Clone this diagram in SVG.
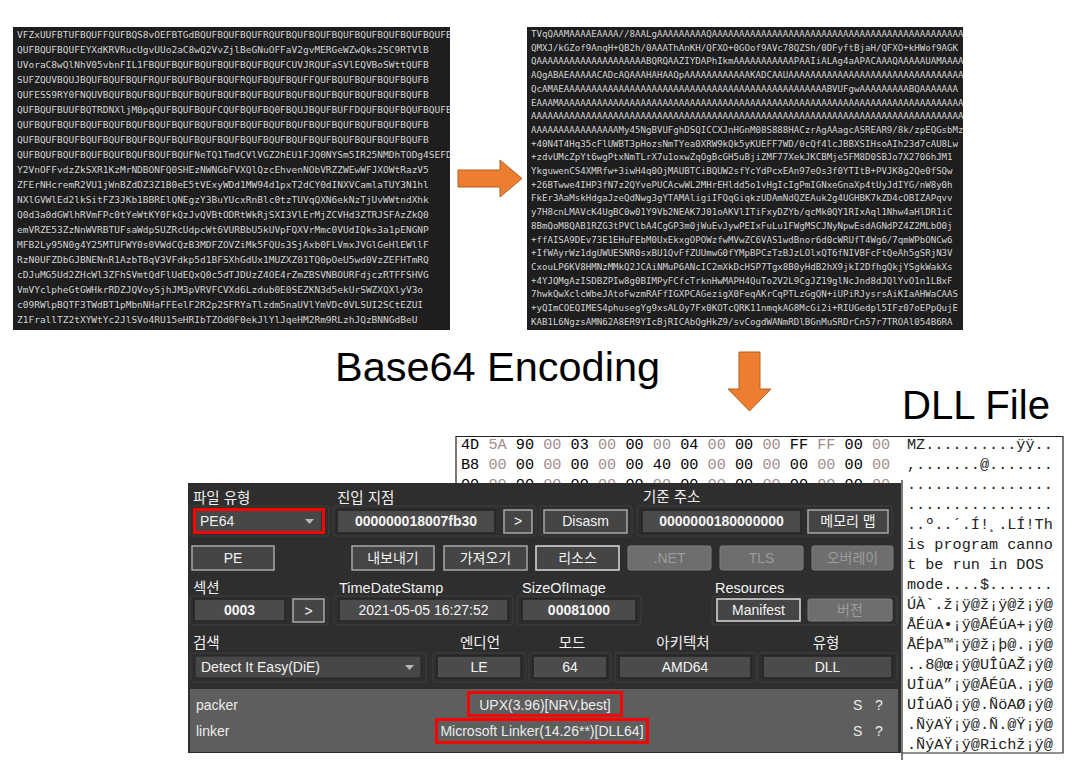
<svg xmlns="http://www.w3.org/2000/svg" width="1082" height="764" viewBox="0 0 1082 764">
<style>
.b64l{font-family:"DejaVu Sans Mono","Liberation Mono",monospace;font-size:9.5px;fill:#d4d4d4}
.b64r{font-family:"DejaVu Sans Mono","Liberation Mono",monospace;font-size:9.1px;fill:#d4d4d4}
.big{font-family:"Liberation Sans","Noto Sans CJK KR",sans-serif;font-size:40px;fill:#000}
.hexd{font-family:"Liberation Mono",monospace;font-size:15.2px;fill:#000}
.hexl{font-family:"Liberation Mono",monospace;font-size:15.2px;fill:#a08c8c}
.asc{font-family:"Liberation Mono",monospace;font-size:15.2px;fill:#222}
.lbl{font-family:"Liberation Sans","Noto Sans CJK KR",sans-serif;font-size:14.5px;fill:#f2f2f2}
.val{font-family:"Liberation Sans","Noto Sans CJK KR",sans-serif;font-size:14px;fill:#f4f4f4;text-anchor:middle}
.valb{font-family:"Liberation Sans",sans-serif;font-size:14px;fill:#f4f4f4;font-weight:bold;text-anchor:middle}
.dis{font-family:"Liberation Sans","Noto Sans CJK KR",sans-serif;font-size:14px;fill:#9c9c9c;text-anchor:middle}
.lst{font-family:"Liberation Sans",sans-serif;font-size:14px;fill:#ececec}
.fld{fill:#4b4b4b;stroke:#242424;stroke-width:1.5}
.btn{fill:#454545;stroke:#a8a8a8;stroke-width:1.5}
.btnd{fill:#6e6e6e;stroke:#7c7c7c;stroke-width:1}
.grp{fill:none;stroke:#3f3f3f;stroke-width:1}
.red{fill:none;stroke:#ff0000;stroke-width:3}
.arr{fill:#ED7D31;stroke:#B0601F;stroke-width:1}
</style>
<defs>
<clipPath id="cl"><rect x="13" y="27" width="437" height="303"/></clipPath>
<clipPath id="cr"><rect x="527" y="27" width="436" height="303"/></clipPath>
<clipPath id="ch"><rect x="456" y="436" width="446" height="47"/></clipPath>
</defs>
<rect width="1082" height="764" fill="#ffffff"/>

<g id="base64-text">
<rect x="13" y="27" width="437" height="303" fill="#1e1e1e"/>
<g clip-path="url(#cl)" class="b64l">
<text x="17" y="38">VFZxUUFBTUFBQUFFQUFBQS8vOEFBTGdBQUFBQUFBQUFRQUFBQUFBQUFBQUFBQUFBQUFBQUFBQUFBQUI</text>
<text x="17" y="53">QUFBQUFBQUFEYXdKRVRucUgvUUo2aC8wQ2VvZjlBeGNuOFFaV2gvMERGeWZwQks2SC9RTVlB</text>
<text x="17" y="68">UVoraC8wQlNhV05vbnFIL1FBQUFBQUFBQUFBQUFBQUFBQUFCUVJRQUFaSVlEQVBoSWttQUFB</text>
<text x="17" y="83">SUFZQUVBQUJBQUFBQUFBQUFRQUFBQUFBQUFBQUFRQUFBQUFBQUFFQUFBQUFBQUFBQUFBQUFB</text>
<text x="17" y="98">QUFESS9RY0FNQUVBQUFBQUFBQUFBQUFBQUFBQUFBQUFBQUFBQUFBQUFBQUFBQUFBQUFBQUFB</text>
<text x="17" y="113">QUFBQUFBUUFBQTRDNXljM0pqQUFBQUFBQUFCQUFBQUFBQ0FBQUJBQUFBUFFDQUFBQUFBQUFBQUFB</text>
<text x="17" y="128">QUFBQUFBQUFBQUFBQUFBQUFBQUFBQUFBQUFBQUFBQUFBQUFBQUFBQUFBQUFBQUFBQUFBQUFB</text>
<text x="17" y="143">QUFBQUFBQUFBQUFBQUFBQUFBQUFBQUFBQUFBQUFBQUFBQUFBQUFBQUFBQUFBQUFBQUFBQUFB</text>
<text x="17" y="158">QUFBQUFBQUFBQUFBQUFBQUFBQUFBQUFNeTQ1TmdCVlVGZ2hEU1FJQ0NYSm5IR25NMDhTODg4SEFD</text>
<text x="17" y="173">Y2VnOFFvdzZkSXR1KzMrNDBONFQ0SHEzNWNGbFVXQlQzcEhvenNObVRZZWEwWFJXOWtRazV5</text>
<text x="17" y="188">ZFErNHcremR2VU1jWnBZdDZ3Z1B0eE5tVExyWDd1MW94d1pxT2dCY0dINXVCamlaTUY3N1hl</text>
<text x="17" y="203">NXlGVWlEd2lkSitFZ3JKb1BBRElQNEgzY3BuYUcxRnBlc0tzTUVqQXN6ekNzTjUvWWtndXhk</text>
<text x="17" y="218">Q0d3a0dGWlhRVmFPc0tYeWtKY0FkQzJvQVBtODRtWkRjSXI3VlErMjZCVHd3ZTRJSFAzZkQ0</text>
<text x="17" y="233">emVRZE53ZzNnWVRBTUFsaWdpSUZRcUdpcWt6VURBbU5kUVpFQXVrMmc0VUdIQks3a1pENGNP</text>
<text x="17" y="248">MFB2Ly95N0g4Y25MTUFWY0s0VWdCQzB3MDFZOVZiMk5FQUs3SjAxb0FLVmxJVGlGeHlEWllF</text>
<text x="17" y="263">RzN0UFZDbGJBNENnR1AzbTBqV3VFdkp5d1BFSXhGdUx1MUZXZ01TQ0pOeU5wd0VzZEFHTmRQ</text>
<text x="17" y="278">cDJuMG5Ud2ZHcWl3ZFhSVmtQdFlUdEQxQ0c5dTJDUzZ4OE4rZmZBSVNBOURFdjczRTFFSHVG</text>
<text x="17" y="293">VmVYclpheGtGWHkrRDZJQVoySjhJM3pVRVFCVXd6Lzdub0E0SEZKN3d5ekUrSWZXQXlyV3o</text>
<text x="17" y="308">c09RWlpBQTF3TWdBT1pMbnNHaFFEelF2R2p2SFRYaTlzdm5naUVlYmVDc0VLSUI2SCtEZUI</text>
<text x="17" y="323">Z1FrallTZ2tXYWtYc2JlSVo4RU15eHRIbTZOd0F0ekJlYlJqeHM2Rm9RLzhJQzBNNGdBeU</text>
</g>
</g>

<g id="dll-base64">
<rect x="527" y="27" width="436" height="303" fill="#1e1e1e"/>
<g clip-path="url(#cr)" class="b64r">
<text x="531" y="37">TVqQAAMAAAAEAAAA//8AALgAAAAAAAAAQAAAAAAAAAAAAAAAAAAAAAAAAAAAAAAAAAAAAAAAAAAAAAAA</text>
<text x="531" y="50.7">QMXJ/kGZof9AnqH+QB2h/0AAAThAnKH/QFXO+0GOof9AVc78QZSh/0DFyftBjaH/QFXO+kHWof9AGK</text>
<text x="531" y="64.4">QAAAAAAAAAAAAAAAAAAAABQRQAAZIYDAPhIkmAAAAAAAAAAAPAAIiALAg4aAPACAAAQAAAAAUAMAAAA</text>
<text x="531" y="78.1">AQgABAEAAAAACADcAQAAAHAHAAQpAAAAAAAAAAAAKADCAAUAAAAAAAAAAAAAAAAAAAAAAAAAAAAAAAA</text>
<text x="531" y="91.8">QcAMAEAAAAAAAAAAAAAAAAAAAAAAAAAAAAAAAAAAAAAAAAAAAAAAAABVUFgwAAAAAAAAABQAAAAAAA</text>
<text x="531" y="105.5">EAAAMAAAAAAAAAAAAAAAAAAAAAAAAAAAAAAAAAAAAAAAAAAAAAAAAAAAAAAAAAAAAAAAAAAAAAAAAAAA</text>
<text x="531" y="119.2">AAAAAAAAAAAAAAAAAAAAAAAAAAAAAAAAAAAAAAAAAAAAAAAAAAAAAAAAAAAAAAAAAAAAAAAAAAAAAAAAA</text>
<text x="531" y="132.9">AAAAAAAAAAAAAAAAMy45NgBVUFghDSQICCXJnHGnM08S888HACzrAgAAagcASREAR9/8k/zpEQGsbMz</text>
<text x="531" y="146.6">+40N4T4Hq35cFlUWBT3pHozsNmTYea0XRW9kQk5yKUEFF7WD/0cQf4lcJBBXSIHsoAIh23d7cAU8Lw</text>
<text x="531" y="160.3">+zdvUMcZpYt6wgPtxNmTLrX7u1oxwZqOgBcGH5uBjiZMF77XekJKCBMje5FM8D0SBJo7X2706hJM1</text>
<text x="531" y="174">YkguwenCS4XMRfw+3iwH4q0OjMAUBTCiBQUW2sfYcYdPcxEAn97eOs3f0YTItB+PVJK8g2Qe0fSQw</text>
<text x="531" y="187.7">+26BTwwe4IHP3fN7z2QYvePUCAcwWL2MHrEHldd5o1vHgIcIgPmIGNxeGnaXp4tUyJdIYG/nW8y0h</text>
<text x="531" y="201.4">FkEr3AaMskHdgaJzeQdNwg3gYTAMAligiIFQqGiqkzUDAmNdQZEAuk2g4UGHBK7kZD4cOBIZAPqvv</text>
<text x="531" y="215.1">y7H8cnLMAVcK4UgBC0w01Y9Vb2NEAK7J01oAKVlITiFxyDZYb/qcMk0QY1RIxAql1Nhw4aHlDR1iC</text>
<text x="531" y="228.8">8BmQoM8QAB1RZG3tPVClbA4CgGP3m0jWuEvJywPEIxFuLu1FWgMSCJNyNpwEsdAGNdPZ4Z2MLbO0j</text>
<text x="531" y="242.5">+ffAISA9DEv73E1EHuFEbM0UxEkxgOPOWzfwMVwZC6VAS1wdBnor6d0cWRUfT4Wg6/7qmWPbONCw6</text>
<text x="531" y="256.2">+IfWAyrWz1dgUWUESNR0sxBU1QvFfZUUmwG0fYMpBPCzTzBJzLOlxQT6fNIVBFcFtQeAh5gSRjN3V</text>
<text x="531" y="269.9">CxouLP6KV8HMNzMMkQ2JCAiNMuP6ANcIC2mXkDcHSP7Tgx8B0yHdB2hX9jkI2DfhgQkjYSgkWakXs</text>
<text x="531" y="283.6">+4YJQMgAzISDBZPIw8g0BIMPyFCfcTrknHwMAPH4QuTo2V2L9CgJZ19glNcJnd8dJQlYvO1n1LBxF</text>
<text x="531" y="297.3">7hwkQwXclcWbeJAtoFwzmRAFfIGXPCAGezigX0FeqAKrCqPTLzGgQN+iUPiRJysrsAiKIaAHWaCAAS</text>
<text x="531" y="311">+yQImCOEQIMES4phusegYg9xsALOy7Fx0KOTcQRK11nmqkAG8McGi2i+RIUGedpl5IFz07oEPpQujE</text>
<text x="531" y="324.7">KAB1L6NgzsAMN62A8ER9YIcBjRICAbQgHkZ9/svCogdWANmRDlBGnMuSRDrCn57r7TROAl054B6RA</text>
</g>
</g>

<g id="label-base64">
<text class="big" x="335" y="381" textLength="325" lengthAdjust="spacingAndGlyphs">Base64 Encoding</text>
</g>
<g id="label-dll">
<text class="big" x="902" y="419" textLength="148" lengthAdjust="spacingAndGlyphs">DLL File</text>
</g>

<g id="hex-dump">
<rect x="456" y="436" width="607" height="317" fill="#ffffff"/>
<path d="M456,483 V436.5 H1063 V753 H902" fill="none" stroke="#222" stroke-width="1.2"/>
<line x1="902" y1="480" x2="902" y2="760" stroke="#222" stroke-width="1.2"/>
<g clip-path="url(#ch)">
<text x="461" y="449"><tspan class="hexd">4D</tspan><tspan class="hexl" x="488.4">5A</tspan><tspan class="hexd" x="515.8">90</tspan><tspan class="hexl" x="543.2">00</tspan><tspan class="hexd" x="570.6">03</tspan><tspan class="hexl" x="598">00</tspan><tspan class="hexd" x="625.4">00</tspan><tspan class="hexl" x="652.8">00</tspan><tspan class="hexd" x="680.2">04</tspan><tspan class="hexl" x="707.6">00</tspan><tspan class="hexd" x="735">00</tspan><tspan class="hexl" x="762.4">00</tspan><tspan class="hexd" x="789.8">FF</tspan><tspan class="hexl" x="817.2">FF</tspan><tspan class="hexd" x="844.6">00</tspan><tspan class="hexl" x="872">00</tspan></text>
<text x="461" y="469"><tspan class="hexd">B8</tspan><tspan class="hexl" x="488.4">00</tspan><tspan class="hexd" x="515.8">00</tspan><tspan class="hexl" x="543.2">00</tspan><tspan class="hexd" x="570.6">00</tspan><tspan class="hexl" x="598">00</tspan><tspan class="hexd" x="625.4">00</tspan><tspan class="hexd" x="652.8">40</tspan><tspan class="hexd" x="680.2">00</tspan><tspan class="hexl" x="707.6">00</tspan><tspan class="hexd" x="735">00</tspan><tspan class="hexl" x="762.4">00</tspan><tspan class="hexd" x="789.8">00</tspan><tspan class="hexl" x="817.2">00</tspan><tspan class="hexd" x="844.6">00</tspan><tspan class="hexl" x="872">00</tspan></text>
<text x="461" y="489"><tspan class="hexd">00</tspan><tspan class="hexl" x="488.4">00</tspan><tspan class="hexd" x="515.8">00</tspan><tspan class="hexl" x="543.2">00</tspan><tspan class="hexd" x="570.6">00</tspan><tspan class="hexl" x="598">00</tspan><tspan class="hexd" x="625.4">00</tspan><tspan class="hexl" x="652.8">00</tspan><tspan class="hexd" x="680.2">00</tspan><tspan class="hexl" x="707.6">00</tspan><tspan class="hexd" x="735">00</tspan><tspan class="hexl" x="762.4">00</tspan><tspan class="hexd" x="789.8">00</tspan><tspan class="hexl" x="817.2">00</tspan><tspan class="hexd" x="844.6">00</tspan><tspan class="hexl" x="872">00</tspan></text>
</g>
<g class="asc">
<text x="907" y="449">MZ..........ÿÿ..</text>
<text x="907" y="469">,.......@.......</text>
<text x="907" y="489">................</text>
<text x="907" y="509">................</text>
<text x="907" y="529">..º..´.Í!¸.LÍ!Th</text>
<text x="907" y="549">is program canno</text>
<text x="907" y="569">t be run in DOS </text>
<text x="907" y="589">mode....$.......</text>
<text x="907" y="609">ÚÀ`.ž¡ÿ@ž¡ÿ@ž¡ÿ@</text>
<text x="907" y="629">ÅÉüA•¡ÿ@ÅÉúA+¡ÿ@</text>
<text x="907" y="649">ÅÉþA™¡ÿ@ž¡þ@.¡ÿ@</text>
<text x="907" y="669">..8@œ¡ÿ@UÎûAŽ¡ÿ@</text>
<text x="907" y="689">UÎüA”¡ÿ@ÅÉûA.¡ÿ@</text>
<text x="907" y="709">UÎúAÖ¡ÿ@.ÑöAØ¡ÿ@</text>
<text x="907" y="729">.ÑÿAŸ¡ÿ@.Ñ.@Ÿ¡ÿ@</text>
<text x="907" y="749">.ÑýAŸ¡ÿ@Richž¡ÿ@</text>
</g>
</g>

<g id="die-panel">
<rect x="188" y="483" width="713" height="270" fill="#2e2e2e"/>
<g class="grp">
<rect x="190" y="506" width="139" height="30" rx="3"/>
<rect x="333" y="506" width="203" height="30" rx="3"/>
<rect x="540" y="506" width="92" height="30" rx="3"/>
<rect x="637" y="506" width="255" height="30" rx="3"/>
<rect x="190" y="596" width="138" height="29" rx="3"/>
<rect x="334" y="596" width="179" height="29" rx="3"/>
<rect x="517" y="596" width="124" height="29" rx="3"/>
<rect x="712" y="596" width="185" height="29" rx="3"/>
<rect x="191" y="653" width="235" height="29" rx="3"/>
<rect x="433" y="653" width="93" height="29" rx="3"/>
<rect x="529" y="653" width="82" height="29" rx="3"/>
<rect x="615" y="653" width="141" height="29" rx="3"/>
<rect x="758" y="653" width="139" height="29" rx="3"/>
</g>
<g class="lbl">
<text x="193" y="503">파일 유형</text>
<text x="337" y="503">진입 지점</text>
<text x="643" y="502">기준 주소</text>
<text x="193" y="593">섹션</text>
<text x="339" y="593">TimeDateStamp</text>
<text x="522" y="593">SizeOfImage</text>
<text x="715" y="593">Resources</text>
<text x="193" y="648">검색</text>
<text x="480" y="648" text-anchor="middle">엔디언</text>
<text x="572" y="648" text-anchor="middle">모드</text>
<text x="683" y="648" text-anchor="middle">아키텍처</text>
<text x="826" y="648" text-anchor="middle">유형</text>
</g>
<rect x="196" y="511" width="125" height="20" fill="#474747"/>
<text class="lst" x="200" y="526" style="fill:#f2f2f2">PE64</text>
<polygon points="305,519 314,519 309.5,524" fill="#b8b8b8"/>
<rect class="red" x="194.5" y="509.5" width="129" height="23"/>
<rect class="fld" x="337" y="510" width="158" height="23"/>
<text class="valb" x="416" y="526">000000018007fb30</text>
<rect class="btn" x="504" y="510" width="28" height="23"/>
<text class="val" x="518" y="526">&gt;</text>
<rect class="btn" x="544" y="510" width="83" height="23"/>
<text class="val" x="585.5" y="526">Disasm</text>
<rect class="fld" x="642" y="510" width="159" height="23"/>
<text class="valb" x="721.5" y="526">0000000180000000</text>
<rect class="btn" x="808" y="510" width="80" height="23"/>
<text class="val" x="848" y="526">메모리 맵</text>

<rect class="btn" x="192" y="546" width="82" height="24"/>
<text class="val" x="233" y="563">PE</text>
<rect class="btn" x="352" y="546" width="82" height="24"/>
<text class="val" x="393" y="563">내보내기</text>
<rect class="btn" x="444" y="546" width="83" height="24"/>
<text class="val" x="485.5" y="563">가져오기</text>
<rect class="btn" x="536" y="546" width="83" height="24" style="stroke:#dcdcdc"/>
<text class="val" x="577.5" y="563">리소스</text>
<rect class="btnd" x="628" y="546" width="83" height="24" rx="2"/>
<text class="dis" x="669.5" y="563">.NET</text>
<rect class="btnd" x="720" y="546" width="83" height="24" rx="2"/>
<text class="dis" x="761.5" y="563">TLS</text>
<rect class="btnd" x="812" y="546" width="81" height="24" rx="2"/>
<text class="dis" x="852.5" y="563">오버레이</text>

<rect class="fld" x="194" y="599" width="91" height="22"/>
<text class="valb" x="239.5" y="615">0003</text>
<rect class="btn" x="293" y="599" width="31" height="23"/>
<text class="val" x="308.5" y="616">&gt;</text>
<rect class="fld" x="339" y="599" width="169" height="22"/>
<text class="val" x="423.5" y="615">2021-05-05 16:27:52</text>
<rect class="fld" x="522" y="599" width="114" height="22"/>
<text class="valb" x="579" y="615">00081000</text>
<rect class="btn" x="717" y="599" width="83" height="22" style="stroke:#dcdcdc"/>
<text class="val" x="758.5" y="615">Manifest</text>
<rect class="btnd" x="808" y="599" width="84" height="22" rx="2"/>
<text class="dis" x="850" y="615">버전</text>

<rect x="195" y="656" width="226" height="22" rx="2" fill="#474747" stroke="#262626"/>
<text class="lst" x="201" y="672" style="fill:#f2f2f2">Detect It Easy(DiE)</text>
<polygon points="405,665 414,665 409.5,670" fill="#b8b8b8"/>
<rect class="fld" x="437" y="656" width="84" height="22"/>
<text class="val" x="479" y="672">LE</text>
<rect class="fld" x="533" y="656" width="74" height="22"/>
<text class="val" x="570" y="672">64</text>
<rect class="fld" x="619" y="656" width="132" height="22"/>
<text class="val" x="685" y="672">AMD64</text>
<rect class="fld" x="763" y="656" width="129" height="22"/>
<text class="val" x="827.5" y="672">DLL</text>

<rect x="190" y="689" width="708" height="63" fill="#5e5e5e"/>
<text class="lst" x="196" y="710">packer</text>
<text class="lst" x="196" y="736">linker</text>
<text class="lst" x="545" y="710" text-anchor="middle">UPX(3.96)[NRV,best]</text>
<text class="lst" x="542" y="736" text-anchor="middle">Microsoft Linker(14.26**)[DLL64]</text>
<rect class="red" x="468.5" y="692.5" width="153" height="23"/>
<rect class="red" x="436.5" y="719.5" width="211" height="23"/>
<text class="lst" x="853" y="710">S</text>
<text class="lst" x="875" y="710">?</text>
<text class="lst" x="853" y="736">S</text>
<text class="lst" x="875" y="736">?</text>
</g>

<g id="connectors">
<polygon class="arr" points="458,170 500,170 500,160 522,178.5 500,197 500,187 458,187"/>
<polygon class="arr" points="739,352 760,352 760,389 771,389 749.5,411 728,389 739,389"/>
</g>
</svg>
